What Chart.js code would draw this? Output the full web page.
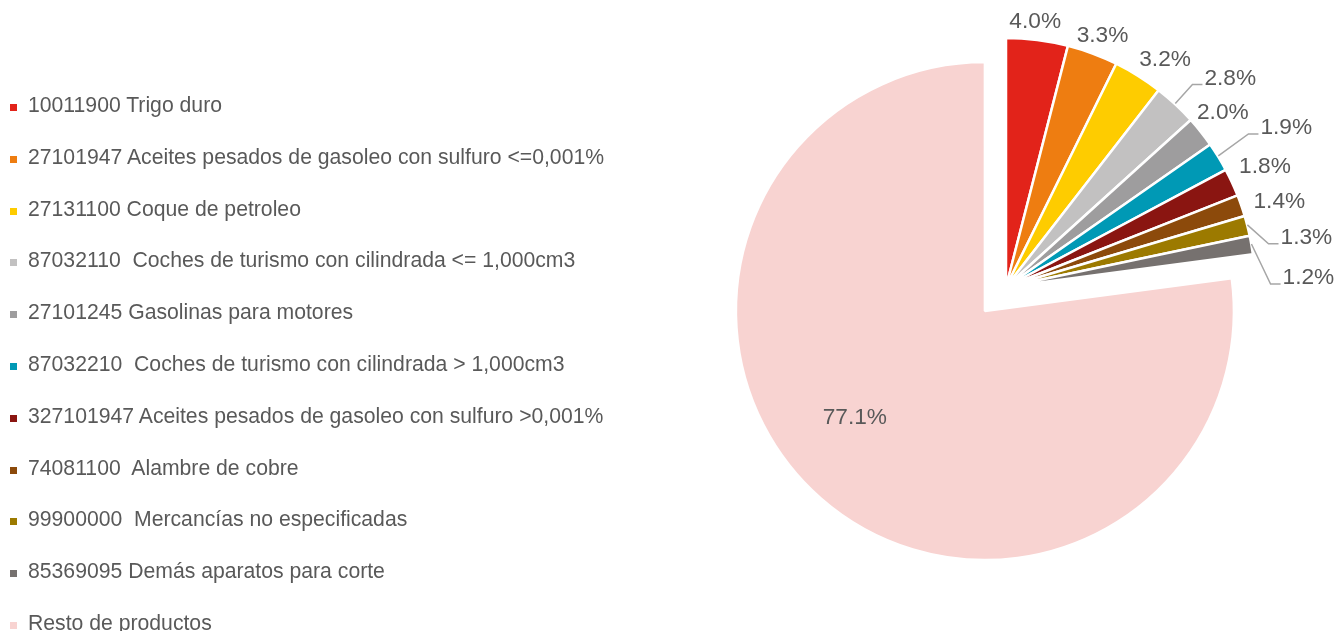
<!DOCTYPE html>
<html>
<head>
<meta charset="utf-8">
<script src="https://cdn.jsdelivr.net/npm/chart.js@4/dist/chart.umd.min.js"></script>
<style>
  html, body { margin: 0; padding: 0; background: #fff; overflow: hidden; }
  #wrap { position: relative; width: 1336px; height: 631px; overflow: hidden; }
  #c { position: absolute; left: 0; top: 0; }
  #legend { position: absolute; left: 0; top: 0; font-family: "Liberation Sans", Arial, sans-serif; font-size: 21.2px; color: #595959; }
  .li { position: absolute; left: 10px; height: 24px; line-height: 24px; white-space: pre; }
  .mk { display: inline-block; width: 7px; height: 7px; margin-right: 11px; vertical-align: 1px; }
</style>
</head>
<body>
<div id="wrap">
  <canvas id="c" width="1336" height="631"></canvas>
  <div id="legend"></div>
</div>
<script>
const categories = [
  "10011900 Trigo duro",
  "27101947 Aceites pesados de gasoleo con sulfuro <=0,001%",
  "27131100 Coque de petroleo",
  "87032110  Coches de turismo con cilindrada <= 1,000cm3",
  "27101245 Gasolinas para motores",
  "87032210  Coches de turismo con cilindrada > 1,000cm3",
  "327101947 Aceites pesados de gasoleo con sulfuro >0,001%",
  "74081100  Alambre de cobre",
  "99900000  Mercancías no especificadas",
  "85369095 Demás aparatos para corte",
  "Resto de productos"
];
const shares = [4.0, 3.3, 3.2, 2.8, 2.0, 1.9, 1.8, 1.4, 1.3, 1.2, 77.1];
const valueLabels = ["4.0%", "3.3%", "3.2%", "2.8%", "2.0%", "1.9%", "1.8%", "1.4%", "1.3%", "1.2%", "77.1%"];
const colors = ["#E2231A", "#EE7D11", "#FECC00", "#C2C1C1", "#9E9D9E", "#0099B5", "#8A1511", "#8C4A0B", "#9C7A00", "#76716F", "#F8D3D1"];

// label placement relative to the slice's outer-edge midpoint (dx, dy)
const labelNudge = [[-2,-18],[10,-18],[27,-16],[55,-26],[22,-19],[68,-29],[33,-16],[38,-4],[59,12],[57,33],[34,-81]];
const hasLeader = [false,false,false,true,false,true,false,false,true,true,false];
const EXPLODE_INDEX = 10;
const EXPLODE_PX = 32;

// HTML legend
const legendEl = document.getElementById('legend');
categories.forEach((name, i) => {
  const d = document.createElement('div');
  d.className = 'li';
  d.style.top = (105 + i * 51.8 - 12) + 'px';
  const m = document.createElement('span');
  m.className = 'mk';
  m.style.background = colors[i];
  d.appendChild(m);
  d.appendChild(document.createTextNode(name));
  legendEl.appendChild(d);
});

const explodePlugin = {
  id: 'explode',
  afterDatasetUpdate(chart, args) {
    const el = chart.getDatasetMeta(args.index).data[EXPLODE_INDEX];
    if (!el) return;
    const mid = (el.startAngle + el.endAngle) / 2;
    el.x += Math.cos(mid) * EXPLODE_PX;
    el.y += Math.sin(mid) * EXPLODE_PX;
  }
};

const labelPlugin = {
  id: 'sliceLabels',
  afterDatasetsDraw(chart) {
    const ctx = chart.ctx;
    const meta = chart.getDatasetMeta(0);
    ctx.save();
    ctx.font = '22.7px "Liberation Sans", Arial, sans-serif';
    ctx.textAlign = 'center';
    ctx.textBaseline = 'middle';
    meta.data.forEach((el, i) => {
      const mid = (el.startAngle + el.endAngle) / 2;
      const ax = el.x + Math.cos(mid) * el.outerRadius;
      const ay = el.y + Math.sin(mid) * el.outerRadius;
      const lx = ax + labelNudge[i][0];
      const ly = ay + labelNudge[i][1];
      const txt = valueLabels[i];
      if (hasLeader[i]) {
        const w = ctx.measureText(txt).width;
        const left = lx - w / 2;
        ctx.strokeStyle = '#A6A6A6';
        ctx.lineWidth = 1.5;
        ctx.beginPath();
        ctx.moveTo(ax, ay - 1);
        ctx.lineTo(left - 12, ly + 6);
        ctx.lineTo(left - 2, ly + 6);
        ctx.stroke();
      }
      ctx.fillStyle = '#595959';
      ctx.fillText(txt, lx, ly);
    });
    ctx.restore();
  }
};

new Chart(document.getElementById('c'), {
  type: 'pie',
  data: {
    labels: categories,
    datasets: [{
      data: shares,
      backgroundColor: colors,
      borderColor: '#ffffff',
      borderWidth: 2.5
    }]
  },
  options: {
    responsive: false,
    devicePixelRatio: 1,
    animation: false,
    events: [],
    radius: 249,
    layout: { padding: { left: 757, right: 81, top: 38, bottom: 95 } },
    plugins: {
      legend: { display: false },
      tooltip: { enabled: false }
    }
  },
  plugins: [explodePlugin, labelPlugin]
});
</script>
</body>
</html>
